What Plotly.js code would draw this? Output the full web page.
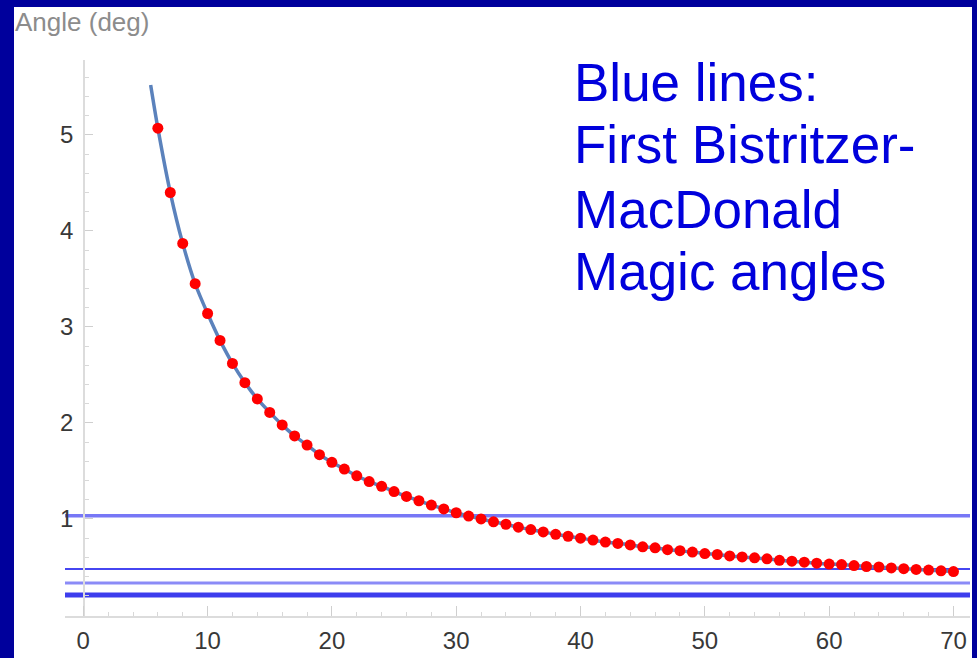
<!DOCTYPE html>
<html>
<head>
<meta charset="utf-8">
<script src="https://cdn.plot.ly/plotly-3.0.1.min.js"></script>
<style>
  html, body { margin: 0; padding: 0; background: #00009c; width: 977px; height: 658px; overflow: hidden; }
  #chart { position: absolute; left: 14px; top: 7px; width: 958px; height: 651px; }
</style>
</head>
<body>
<div id="chart"></div>
<script>
// Commensurate index m (x) and twist angle in degrees (y)
const commensurateIndex = [6,7,8,9,10,11,12,13,14,15,16,17,18,19,20,21,22,23,24,25,26,27,28,29,30,31,32,33,34,35,36,37,38,39,40,41,42,43,44,45,46,47,48,49,50,51,52,53,54,55,56,57,58,59,60,61,62,63,64,65,66,67,68,69,70];
const angleDeg = [5.07,4.40,3.87,3.45,3.14,2.86,2.62,2.42,2.25,2.11,1.98,1.865,1.77,1.67,1.59,1.52,1.45,1.39,1.34,1.285,1.235,1.19,1.145,1.105,1.065,1.03,1.00,0.97,0.945,0.915,0.89,0.865,0.84,0.82,0.80,0.78,0.76,0.745,0.73,0.71,0.70,0.68,0.67,0.655,0.64,0.63,0.615,0.605,0.595,0.585,0.57,0.56,0.55,0.54,0.53,0.525,0.515,0.505,0.50,0.49,0.482,0.475,0.468,0.46,0.452];
// Continuous curve: starts slightly before the first point
const curveStartX = [5.42];
const curveStartY = [5.52];
// First Bistritzer-MacDonald magic angles (horizontal lines), degrees
const magicAngles = [1.034, 0.48, 0.333, 0.222, 0.194];
const magicColors = ['rgba(95,95,245,0.85)','rgba(60,60,240,0.95)','rgba(110,110,245,0.8)','rgba(40,40,235,0.9)','rgba(40,40,235,0.9)'];
const magicWidths = [3.5, 2, 3, 2.5, 2.5];
// Axis ticks
const xTicks = [0,10,20,30,40,50,60,70];
const yTicks = [1,2,3,4,5];
const annotationLines = ['Blue lines:', 'First Bistritzer-', 'MacDonald', 'Magic angles'];

const xRange = [-1.47, 71.33];
const yRange = [-0.0104, 5.78];

const curve = {
  x: curveStartX.concat(commensurateIndex),
  y: curveStartY.concat(angleDeg),
  mode: 'lines',
  line: { color: '#5b82bc', width: 3.5, shape: 'spline', smoothing: 0.8 },
  hoverinfo: 'skip',
  showlegend: false
};
const dots = {
  x: commensurateIndex,
  y: angleDeg,
  mode: 'markers',
  marker: { color: '#ff0000', size: 11 },
  showlegend: false
};

const shapes = magicAngles.map((a, i) => ({
  type: 'line', xref: 'paper', x0: 0, x1: 1, yref: 'y', y0: a, y1: a,
  line: { color: magicColors[i], width: magicWidths[i] }, layer: 'below'
}));

const textFont = { family: 'Arial, Liberation Sans, sans-serif', size: 53, color: '#0000dc' };
const lineCentersY = [0.9594, 0.8478, 0.7309, 0.6194];
const annotations = annotationLines.map((t, i) => ({
  text: t, xref: 'paper', yref: 'paper', x: 0.5600, y: lineCentersY[i],
  xanchor: 'left', yanchor: 'middle', showarrow: false, font: textFont
}));
annotations.push({
  text: 'Angle (deg)', xref: 'paper', yref: 'paper', x: -0.057, y: 1.068,
  xanchor: 'left', yanchor: 'middle', showarrow: false,
  font: { family: 'Arial, Liberation Sans, sans-serif', size: 26, color: '#8c8c8c' }
});

const tickFont = { family: 'Arial, Liberation Sans, sans-serif', size: 24, color: '#383838' };

const layout = {
  width: 958, height: 651,
  margin: { l: 51, r: 2, t: 53, b: 42 },
  paper_bgcolor: '#ffffff',
  plot_bgcolor: '#ffffff',
  showlegend: false,
  xaxis: {
    range: xRange, domain: [0, 1],
    showgrid: false, zeroline: false,
    showline: true, linecolor: '#dcdcdc', linewidth: 1.5,
    tickvals: xTicks, ticks: 'inside', ticklen: 10, tickwidth: 1, tickcolor: '#cfcfcf',
    minor: { dtick: 2, tick0: 0, ticks: 'inside', ticklen: 4, tickcolor: '#d8d8d8' },
    tickfont: tickFont, ticklabelstandoff: 3
  },
  yaxis: {
    range: yRange, anchor: 'free', position: (0 - xRange[0]) / (xRange[1] - xRange[0]),
    showgrid: false, zeroline: false,
    showline: true, linecolor: '#dcdcdc', linewidth: 1.5,
    tickvals: yTicks, ticks: 'inside', ticklen: 8, tickwidth: 1, tickcolor: '#cfcfcf',
    minor: { dtick: 0.2, tick0: 0, ticks: 'inside', ticklen: 4, tickcolor: '#d8d8d8' },
    tickfont: tickFont, ticklabelstandoff: 5
  },
  shapes: shapes,
  annotations: annotations
};

Plotly.newPlot('chart', [curve, dots], layout, { displayModeBar: false, staticPlot: true });
</script>
</body>
</html>
